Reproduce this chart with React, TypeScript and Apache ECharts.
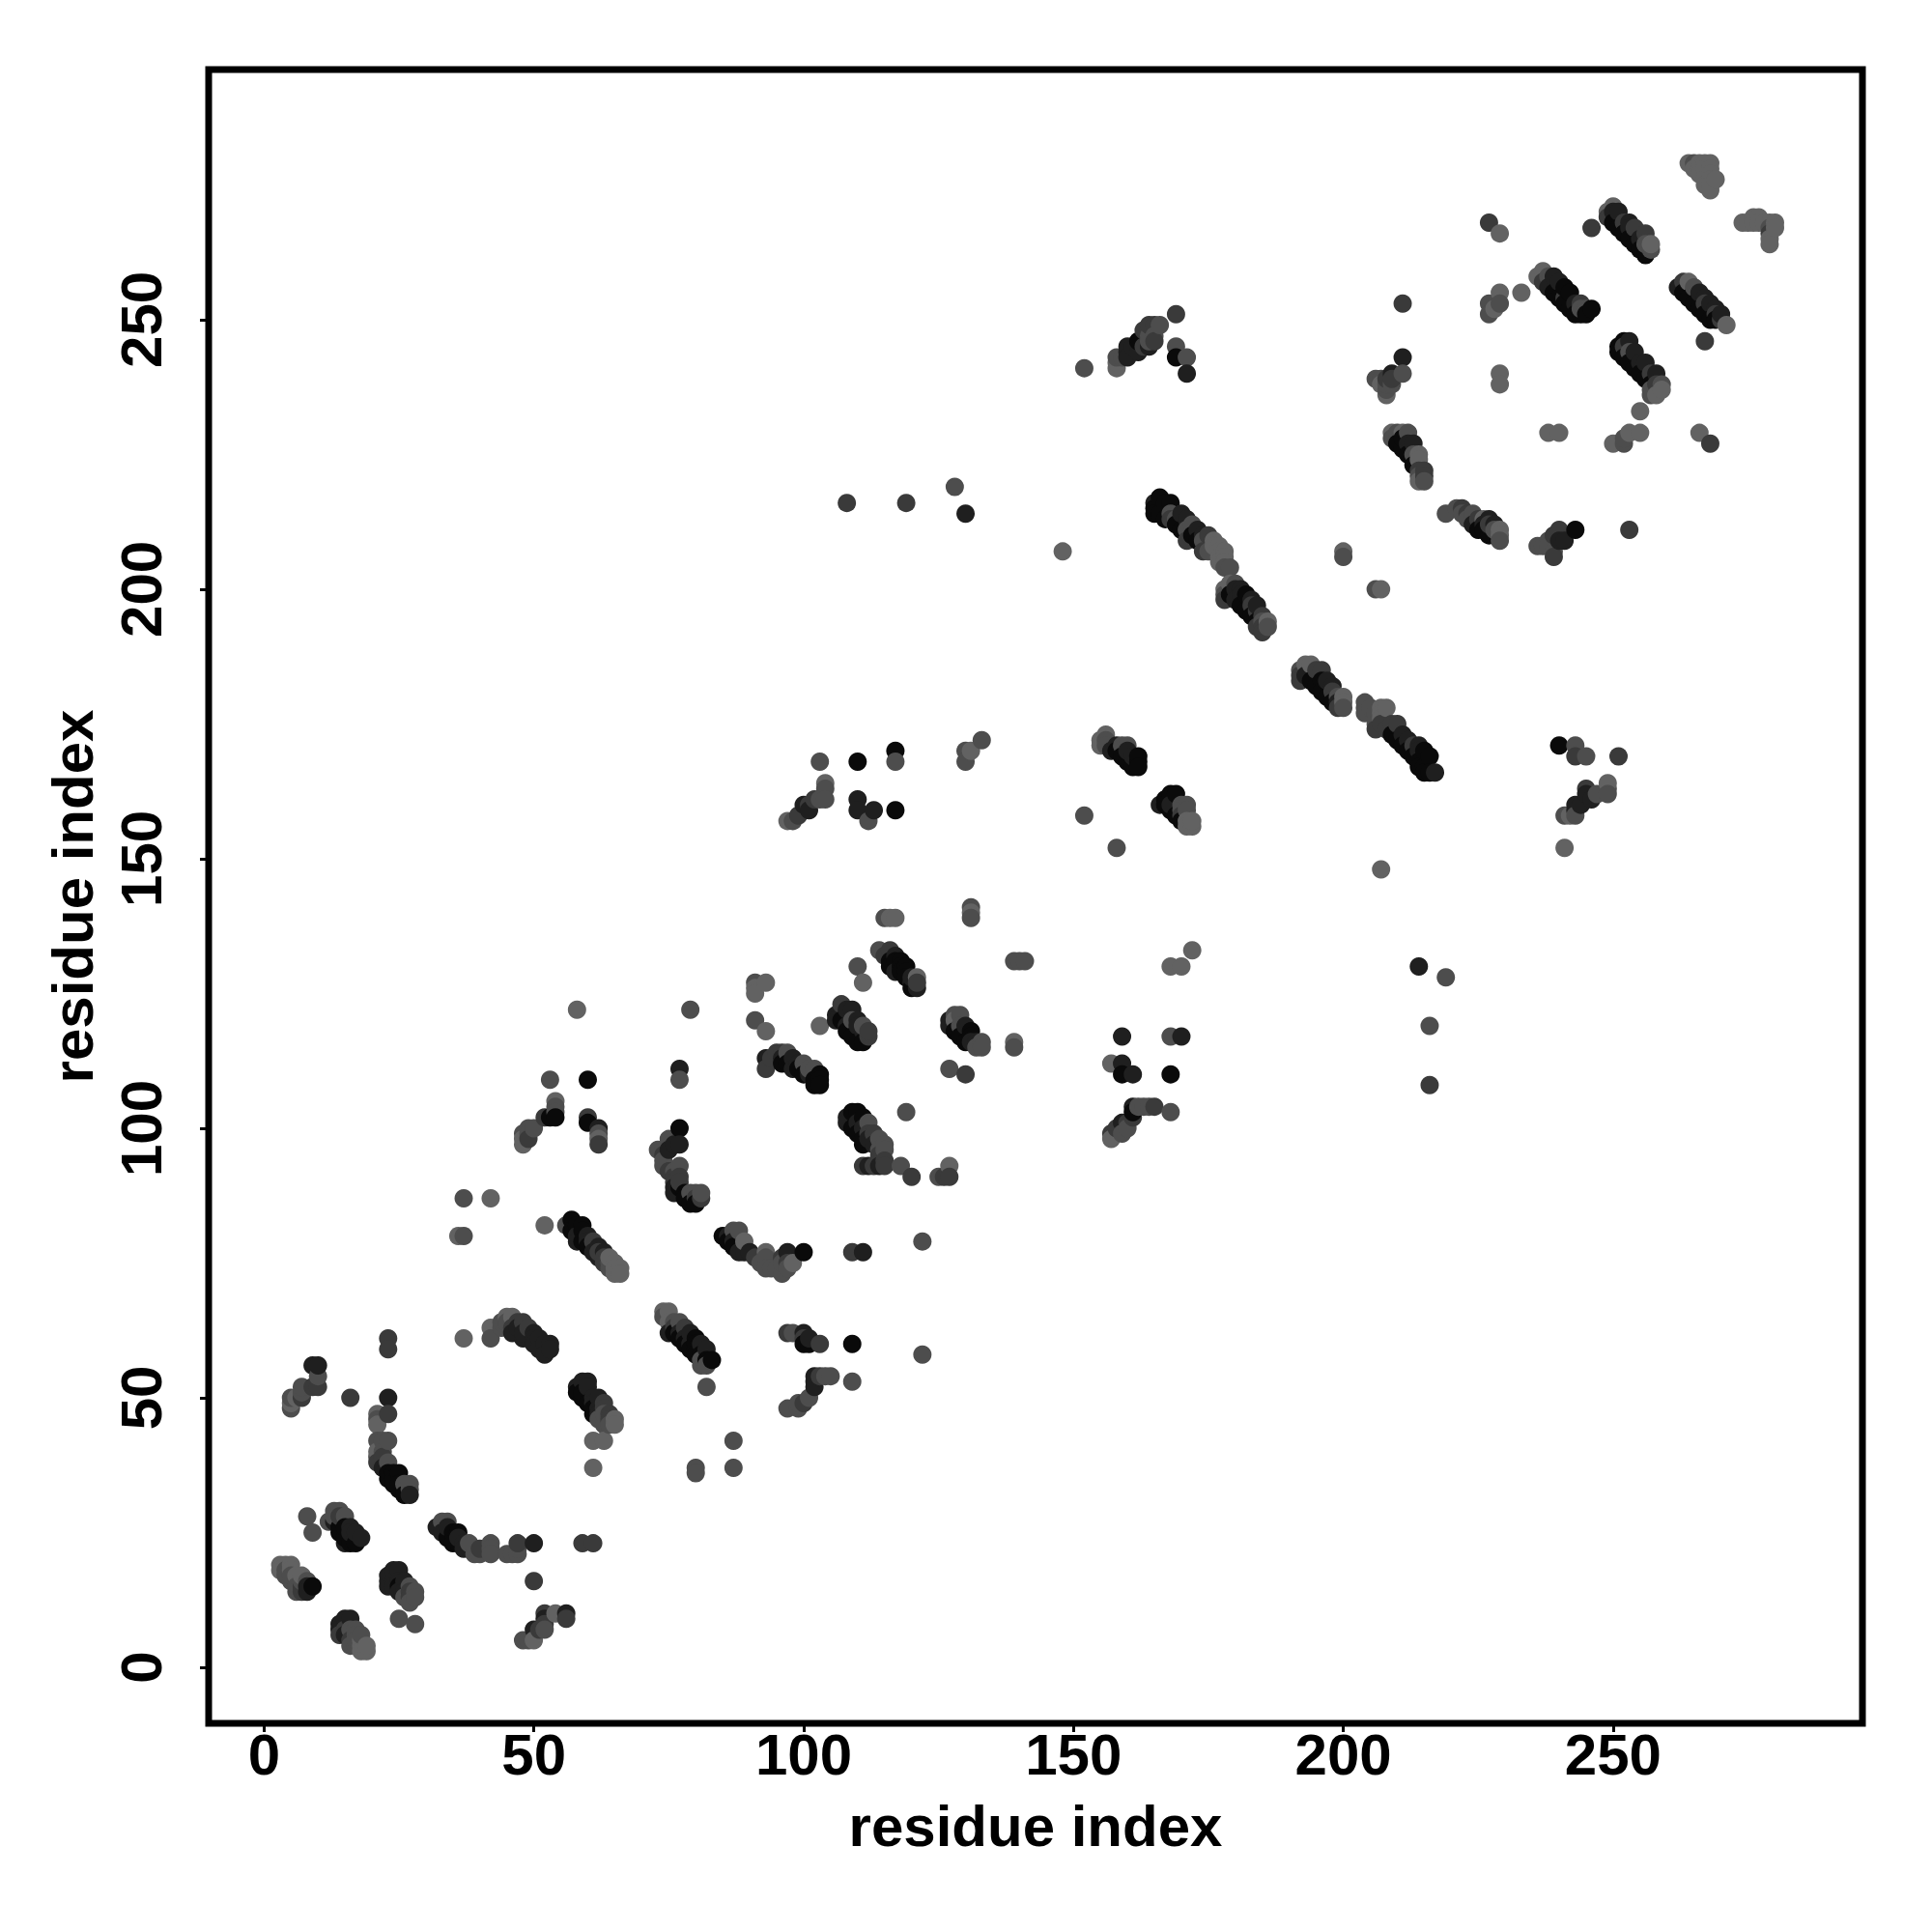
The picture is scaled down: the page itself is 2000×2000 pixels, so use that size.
import React, { useEffect, useRef } from "react";
import * as echarts from "echarts";

// [residue x, residue y, shade class 0 (dark) .. 4 (light)]
type P = number[];
const tickValues = [0, 50, 100, 150, 200, 250];
const axisTitle = "residue index";
const shades = ["#0a0a0a", "#1f1f1f", "#3a3a3a", "#4d4d4d", "#626262"];

const clusterA: P[] = [[3,19,4],[3,18,4],[4,19,4],[4,18,3],[4,17,3],[5,19,4],[5,18,4],[5,16,3],[5,17,3],[6,16,3],[6,17,4],[6,15,3],[7,15,2],[7,14,2],[7,16,3],[7,17,4],[6,14,3],[8,16,3],[8,15,1],[8,14,1],[9,15,0]];
const clusterB: P[] = [[8,28,3],[9,25,3],[12,27,3],[13,29,3],[14,29,3],[15,28,3],[16,26,1],[18,24,1],[17,24,1],[15,23,1],[16,23,0],[17,23,0],[14,26,0],[13,27,1],[14,25,0],[15,24,0],[15,26,0],[14,28,2],[13,28,3],[16,25,1],[17,25,1]];
const clusterC: P[] = [[5,48,3],[5,49,4],[5,50,3],[6,50,4],[7,50,2],[7,51,3],[7,52,3],[9,52,2],[10,52,2],[10,54,3],[9,56,1],[10,56,1],[23,61,2],[23,59,2],[23,50,1],[16,50,2],[23,47,2],[21,47,4],[21,46,3],[21,45,4],[21,42,3],[23,42,3],[22,42,3],[21,39,3],[21,40,4],[21,38,2],[22,40,3],[23,38,3],[22,39,2],[22,37,1],[23,36,0],[24,36,0],[25,36,0],[23,35,0],[24,35,0],[24,34,0],[25,34,0],[26,33,0],[26,34,3],[27,33,3],[27,34,3],[27,32,1],[25,33,0],[26,32,0]];
const clusterD: P[] = [[24,18,1],[25,18,1],[23,17,1],[23,16,1],[23,15,1],[24,16,1],[24,15,1],[25,16,1],[25,15,0],[26,16,1],[26,14,1],[27,15,3],[27,14,2],[27,13,2],[28,14,3],[28,13,3],[26,13,3],[27,12,3],[25,14,1],[25,9,3],[28,8,3]];
const clusterE: P[] = [[15,9,1],[16,9,1],[14,8,1],[14,7,1],[14,6,2],[15,7,2],[15,6,1],[16,7,3],[16,5,2],[17,7,3],[17,6,3],[18,5,4],[16,4,3],[17,4,3],[18,4,4],[18,3,4],[19,3,4],[19,4,4],[17,5,3],[18,6,3]];
const clusterF: P[] = [[32,26,1],[33,27,3],[34,27,3],[33,25,1],[34,24,0],[34,26,1],[36,25,0],[35,25,0],[35,23,0],[36,23,0],[37,23,1],[37,22,1],[38,22,1],[36,24,1],[38,23,3],[39,21,3],[40,21,3],[40,22,2],[42,23,3],[42,22,3],[42,21,3],[45,21,3],[47,21,3],[46,21,3],[47,22,3],[47,23,2],[50,23,1],[59,23,2],[61,23,2],[50,16,2]];
const clusterG: P[] = [[52,10,2],[54,10,4],[56,10,1],[56,9,2],[52,9,1],[52,8,2],[50,7,1],[51,7,2],[52,7,3],[48,5,3],[49,5,3],[50,5,4]];
const clusterH: P[] = [[37,61,4],[42,63,4],[42,61,3],[45,65,4],[46,65,4],[45,64,3],[44,63,3],[44,64,3],[47,64,2],[47,63,1],[48,64,2],[46,63,2],[46,62,1],[48,61,1],[48,62,1],[49,63,2],[50,62,1],[50,61,1],[50,60,1],[51,61,1],[52,60,1],[53,60,1],[51,59,1],[52,58,1],[53,59,1]];
const clusterI: P[] = [[58,52,1],[59,53,1],[60,53,1],[60,52,1],[58,51,0],[59,50,0],[59,51,0],[61,50,1],[62,50,1],[60,49,0],[61,49,1],[61,48,0],[61,47,0],[62,48,1],[63,49,2],[63,48,2],[64,47,2],[62,47,1],[64,46,2],[65,46,4],[65,45,4],[64,45,3],[63,45,3],[63,47,3],[62,46,3],[61,42,4],[63,42,4],[61,37,4]];
const clusterJ: P[] = [[74,66,4],[75,66,4],[74,65,3],[75,64,4],[76,64,3],[76,63,2],[77,64,3],[77,62,1],[78,63,2],[78,61,1],[79,62,1],[79,60,1],[80,61,0],[80,60,0],[80,59,0],[81,60,1],[81,58,0],[82,59,1],[82,57,0],[83,57,0],[81,57,3],[82,56,3],[75,62,1],[76,62,0],[77,61,0],[78,60,0],[79,59,0],[80,58,0],[81,56,3],[82,52,3],[87,42,3],[87,37,3],[80,37,3],[80,36,3]];
const clusterK: P[] = [[97,48,3],[99,48,3],[99,49,3],[100,49,2],[101,50,3],[102,53,1],[102,54,1],[103,54,2],[104,54,3],[105,54,3],[102,52,1],[109,60,0],[97,62,2],[98,62,3],[100,62,1],[100,61,2],[101,60,0],[100,60,0],[103,60,2],[101,61,1],[109,53,3],[122,58,3]];
const clusterL: P[] = [[37,87,3],[42,87,4],[36,80,4],[37,80,3],[52,82,4],[57,83,0],[56,82,3],[58,82,0],[59,82,0],[57,81,0],[58,80,1],[59,81,0],[60,80,1],[60,79,1],[58,79,1],[59,79,0],[61,79,2],[60,78,0],[61,77,1],[62,78,1],[62,76,1],[62,77,2],[63,77,1],[63,76,2],[63,75,2],[64,75,3],[64,74,3],[65,75,4],[65,73,4],[66,74,4],[65,74,4],[66,73,4],[64,76,4]];
const clusterM: P[] = [[53,109,3],[60,109,0],[54,105,4],[54,104,3],[54,103,3],[52,102,2],[53,102,0],[54,102,0],[50,100,3],[49,100,3],[48,99,3],[48,98,4],[49,99,3],[49,98,2],[48,97,4],[60,102,2],[60,101,0],[62,100,1],[62,99,3],[62,98,4],[62,97,2],[58,122,4]];
const clusterN: P[] = [[77,111,1],[77,109,3],[77,100,0],[75,98,3],[76,97,1],[73,96,3],[74,96,3],[74,95,2],[75,96,1],[77,97,1],[74,93,3],[74,94,3],[75,92,2],[76,92,3],[77,93,3],[76,91,2],[76,90,2],[76,89,1],[77,89,0],[78,88,0],[78,87,0],[79,88,3],[80,88,3],[80,87,2],[81,87,2],[79,86,0],[80,86,0],[81,88,3],[76,88,1],[77,91,2],[77,90,2]];
const clusterO: P[] = [[87,81,3],[88,81,3],[86,80,1],[85,80,0],[87,79,1],[86,79,0],[87,78,0],[88,77,1],[89,77,1],[89,79,4],[90,77,1],[91,76,2],[92,75,3],[93,77,4],[93,76,3],[93,74,3],[94,74,3],[95,74,3],[96,76,2],[97,77,1],[100,77,0],[97,75,2],[97,74,3],[96,73,3],[98,75,4],[96,75,3],[109,77,2],[111,77,1],[122,79,3]];
const clusterP: P[] = [[79,122,3],[91,127,3],[91,126,4],[93,127,4],[91,125,4],[91,120,3],[93,118,4],[103,119,4],[110,130,3],[111,127,4],[115,139,3],[116,139,4],[117,139,4],[131,141,3],[131,140,4],[131,139,3],[139,131,3],[140,131,3],[141,131,3],[139,116,4],[139,115,3]];
const clusterQ: P[] = [[159,117,1],[157,112,4],[159,112,1],[159,110,0],[161,110,1],[161,104,1],[162,104,3],[163,104,3],[164,104,3],[165,104,2],[159,101,1],[160,101,2],[157,99,2],[158,100,2],[157,98,4],[159,99,3],[160,100,3],[161,102,2],[161,103,0]];
const clusterR: P[] = [[93,113,1],[93,111,2],[95,114,2],[96,114,2],[94,113,2],[96,113,1],[97,114,3],[97,112,0],[96,112,0],[98,113,1],[98,111,1],[99,112,1],[100,112,3],[101,110,1],[100,110,0],[99,111,0],[101,111,3],[102,111,3],[102,109,0],[103,110,0],[103,109,0],[102,108,0],[103,108,0]];
const clusterS: P[] = [[107,123,2],[106,121,1],[106,120,1],[108,122,1],[109,122,1],[107,120,0],[108,119,1],[108,118,0],[109,120,3],[110,120,1],[110,119,1],[111,118,1],[109,117,0],[110,116,0],[111,116,0],[112,117,2],[112,118,2],[111,119,3]];
const clusterT: P[] = [[114,133,3],[116,133,2],[115,132,2],[117,132,1],[116,131,0],[116,130,0],[117,131,0],[118,131,0],[119,130,0],[118,130,0],[118,129,0],[119,129,0],[117,129,1],[119,128,0],[121,128,4],[120,127,1],[120,126,0],[121,126,1],[121,127,2],[120,128,1]];
const clusterU: P[] = [[127,120,1],[128,121,3],[129,121,3],[128,120,4],[127,119,1],[128,118,0],[129,119,3],[130,119,1],[131,118,0],[129,117,0],[130,116,0],[131,117,0],[132,116,1],[133,116,3],[132,115,3],[133,115,3],[131,116,1],[127,111,3],[130,110,2]];
const clusterV: P[] = [[110,103,0],[109,103,0],[108,102,1],[108,101,1],[111,102,0],[110,101,1],[112,101,3],[111,100,1],[109,100,0],[112,99,2],[113,99,2],[110,99,0],[111,98,0],[114,98,3],[111,97,0],[112,98,1],[113,97,1],[114,96,3],[115,97,3],[115,96,3],[114,95,2],[115,94,2],[114,93,1],[115,93,2],[111,93,2],[112,93,1],[113,93,2],[119,103,3],[118,93,3],[120,91,2],[125,91,3],[127,93,4],[127,91,2],[126,91,2]];
const clusterW: P[] = [[103,168,3],[110,168,0],[117,170,0],[117,168,3],[110,161,1],[110,159,1],[113,159,1],[117,159,0],[112,157,3],[104,164,4],[104,163,3],[104,161,3],[102,161,2],[101,160,2],[100,160,1],[99,158,2],[98,157,3],[97,157,4],[101,159,1],[103,161,3],[133,172,3],[130,170,3],[131,170,4],[130,168,3]];
const clusterX: P[] = [[152,158,3],[158,152,3],[156,173,4],[155,171,4],[155,172,4],[156,172,3],[156,171,3],[159,171,3],[160,171,3],[158,171,1],[158,170,0],[159,169,0],[160,168,0],[161,167,0],[162,168,0],[162,169,0],[161,169,1],[160,170,1],[162,167,0],[157,170,1]];
const clusterY: P[] = [[168,162,0],[167,161,0],[169,162,0],[166,160,1],[167,160,0],[168,159,0],[168,160,1],[170,160,3],[170,159,3],[171,160,3],[171,159,3],[169,158,0],[171,157,4],[171,156,4],[172,156,4],[172,157,4],[170,158,2],[170,157,0]];
const stripeOne: P[] = [[166,217,0],[165,216,1],[165,215,0],[167,216,0],[168,216,0],[166,214,0],[167,213,0],[165,214,0],[169,213,3],[168,214,3],[170,214,1],[171,213,1],[169,212,0],[170,211,0],[168,213,2],[172,212,3],[171,211,3],[173,211,1],[174,210,1],[172,210,0],[173,209,0],[171,209,2],[175,210,2],[176,209,4],[174,209,3],[177,208,4],[175,207,3],[174,207,2],[176,208,4],[178,207,4],[177,207,4],[178,206,4],[177,206,4],[177,205,4],[178,205,4],[179,204,3],[178,204,3]];
const stripeTwo: P[] = [[178,200,4],[179,201,4],[180,201,3],[178,199,3],[178,198,2],[179,199,0],[180,200,1],[181,200,1],[181,199,1],[180,198,1],[182,199,0],[183,198,1],[181,197,0],[182,196,0],[183,197,2],[184,196,2],[184,197,1],[183,195,0],[184,194,0],[185,195,2],[185,194,3],[186,194,4],[186,193,3],[185,193,2],[184,193,2],[185,192,2]];
const stripeThree: P[] = [[192,185,3],[193,186,4],[194,186,4],[192,184,2],[192,183,2],[193,184,1],[195,185,2],[196,185,2],[194,183,0],[195,182,0],[196,183,0],[197,183,1],[198,182,1],[196,181,0],[197,180,0],[198,181,2],[199,180,3],[199,179,1],[198,179,0],[199,178,2],[200,180,4],[200,179,4],[200,178,3]];
const stripeFour: P[] = [[204,178,3],[204,179,3],[204,177,3],[205,178,3],[206,177,3],[207,178,4],[208,178,4],[207,177,4],[207,176,4],[206,175,3],[206,174,2],[207,175,2],[208,174,2],[209,175,2],[210,175,2],[209,173,0],[210,172,0],[211,173,1],[212,172,1],[211,171,0],[212,170,0],[213,171,2],[214,171,1],[214,170,1],[213,169,0],[214,168,0],[215,170,0],[216,169,0],[215,167,0],[216,166,0],[217,166,1],[214,167,0],[215,166,0]];
const singlesMid: P[] = [[200,207,4],[200,206,3],[206,200,3],[207,200,4],[207,148,4],[148,207,4],[214,130,1],[219,128,3],[216,119,3],[216,108,2],[168,130,4],[170,130,4],[172,133,4],[168,117,3],[170,117,1],[168,110,0],[168,103,3],[108,216,2],[119,216,2],[128,219,3],[130,214,1]];
const clusterZ: P[] = [[240,171,0],[243,171,3],[243,169,2],[245,169,3],[251,169,2],[245,163,2],[245,162,1],[243,160,1],[243,159,1],[247,162,3],[249,163,3],[249,164,4],[249,162,3],[241,158,3],[243,158,3],[242,158,4],[241,152,4],[244,160,1],[246,161,1]];
const clusterAA: P[] = [[152,241,3],[158,241,4],[158,242,4],[158,243,3],[159,243,3],[160,244,1],[160,245,1],[161,245,1],[160,243,1],[162,244,1],[163,245,2],[164,245,1],[164,246,3],[164,247,3],[164,249,2],[165,249,2],[163,248,2],[166,249,3],[165,247,3],[165,246,2],[162,246,0],[169,251,2],[169,245,3],[169,243,0],[171,243,3],[171,240,1]];
const clusterAB: P[] = [[211,253,2],[211,243,1],[211,240,3],[209,240,1],[206,239,3],[207,239,3],[208,236,4],[208,237,3],[208,238,3],[209,238,3],[208,239,2],[209,239,2],[207,238,4]];
const clusterAC: P[] = [[209,229,4],[210,229,3],[211,229,4],[212,229,3],[210,227,0],[209,228,3],[212,227,1],[213,227,1],[211,226,0],[212,225,0],[213,225,3],[214,225,4],[214,224,4],[213,223,0],[214,222,2],[215,222,2],[215,221,2],[214,221,3],[215,220,3],[214,220,4],[211,228,0]];
const clusterAD: P[] = [[219,214,3],[221,215,3],[222,215,2],[222,214,3],[223,214,2],[224,214,3],[225,213,2],[224,212,1],[226,213,4],[226,212,1],[225,211,0],[227,213,1],[226,211,0],[227,210,0],[228,212,1],[228,211,3],[229,211,4],[229,210,4],[229,209,3],[227,212,2],[223,213,3]];
const clusterAE: P[] = [[243,211,0],[253,211,2],[240,211,2],[240,209,1],[241,209,1],[236,208,3],[237,208,3],[238,209,3],[238,208,3],[239,207,3],[239,206,2],[239,210,2]];
const singlesUpper: P[] = [[227,268,2],[229,266,4],[229,255,4],[227,253,3],[229,253,3],[227,251,3],[228,252,4],[233,255,4],[229,240,4],[229,238,4],[238,229,4],[240,229,4],[250,227,4],[252,227,3],[252,228,3],[253,229,4],[255,229,4],[255,233,4],[266,229,4],[268,227,2],[267,246,2],[246,267,2]];
const stripeAF: P[] = [[236,258,4],[237,259,4],[238,258,3],[239,258,1],[237,257,2],[238,256,1],[240,257,1],[239,255,0],[240,254,0],[241,254,2],[241,256,0],[242,255,0],[241,253,0],[243,253,1],[244,253,2],[242,252,0],[243,251,0],[245,252,3],[244,251,0],[245,251,0],[246,252,0],[244,252,3]];
const stripeAG: P[] = [[249,270,4],[250,271,4],[250,270,1],[251,270,1],[249,269,2],[250,268,0],[252,268,2],[251,267,0],[253,268,1],[253,267,1],[252,266,0],[254,267,2],[253,265,0],[255,265,1],[256,266,2],[254,264,0],[255,263,0],[256,262,0],[257,263,3],[256,264,3],[257,264,4]];
const stripeAH: P[] = [[262,256,1],[263,257,2],[264,257,4],[265,256,3],[263,255,0],[264,254,0],[266,255,1],[267,254,1],[265,253,0],[266,252,0],[267,253,2],[268,253,1],[269,252,1],[267,251,0],[268,250,0],[269,251,2],[270,250,2],[270,251,1],[269,250,0],[271,249,4]];
const stripeAI: P[] = [[252,246,0],[253,246,1],[251,245,0],[251,244,0],[252,245,2],[253,244,3],[252,243,0],[254,244,1],[253,242,0],[255,242,1],[254,241,0],[256,242,1],[255,240,0],[257,240,2],[258,240,1],[256,239,0],[257,238,0],[258,238,2],[259,238,3],[257,237,3],[257,236,3],[258,236,4],[259,237,4]];
const clusterAJ: P[] = [[264,279,4],[265,279,3],[266,279,4],[267,279,4],[268,279,4],[265,278,4],[266,278,4],[267,278,4],[268,278,4],[266,277,4],[267,276,4],[268,277,4],[268,276,4],[269,276,4],[268,275,4],[268,274,4],[267,275,4]];
const clusterAK: P[] = [[274,268,4],[275,268,4],[276,269,4],[277,269,4],[276,268,4],[277,268,4],[278,268,4],[279,268,4],[280,268,4],[279,267,3],[279,266,2],[279,265,4],[279,264,4],[280,267,4]];

const allGroups = [clusterA, clusterB, clusterC, clusterD, clusterE, clusterF, clusterG, clusterH, clusterI, clusterJ, clusterK, clusterL, clusterM, clusterN, clusterO, clusterP, clusterQ, clusterR, clusterS, clusterT, clusterU, clusterV, clusterW, clusterX, clusterY, stripeOne, stripeTwo, stripeThree, stripeFour, singlesMid, clusterZ, clusterAA, clusterAB, clusterAC, clusterAD, clusterAE, singlesUpper, stripeAF, stripeAG, stripeAH, stripeAI, clusterAJ, clusterAK];

const FONT = "Liberation Sans";

export default function App() {
  const ref = useRef<HTMLDivElement>(null);
  useEffect(() => {
    const chart = echarts.init(ref.current!, undefined, { renderer: "svg" });
    const points = allGroups.flat().slice().sort((a, b) => a[0] - b[0]);
    const axisBase = {
      type: "value" as const,
      name: axisTitle,
      nameLocation: "middle" as const,
      splitLine: { show: false },
      axisLine: { show: false, onZero: false },
      axisTick: { show: true, length: 9, lineStyle: { color: "#000", width: 3 }, customValues: tickValues },
      nameTextStyle: { fontFamily: FONT, fontWeight: "bold" as const, fontSize: 60, color: "#000" },
    };
    chart.setOption({
      animation: false,
      backgroundColor: "#fff",
      grid: { left: 216, top: 72, width: 1712, height: 1712, show: true, borderColor: "#000", borderWidth: 7, backgroundColor: "transparent" },
      xAxis: {
        ...axisBase,
        min: -10.26,
        max: 296.2,
        nameGap: 76,
        axisLabel: { customValues: tickValues, fontFamily: FONT, fontWeight: "bold", fontSize: 60, color: "#000", margin: 2 },
      },
      yAxis: {
        ...axisBase,
        min: -10.4,
        max: 296.4,
        nameGap: 111,
        axisLabel: { customValues: tickValues, rotate: 90, fontFamily: FONT, fontWeight: "bold", fontSize: 60, color: "#000", margin: 40 },
      },
      series: [
        {
          type: "scatter",
          data: points,
          symbol: "circle",
          symbolSize: 19,
          clip: false,
          large: false,
          itemStyle: { color: (p: any) => shades[p.value[2]], opacity: 1 },
          encode: { x: 0, y: 1 },
        },
      ],
    });
    return () => chart.dispose();
  }, []);
  return <div ref={ref} style={{ position: "absolute", left: 0, top: 0, width: 2000, height: 2000 }} />;
}
